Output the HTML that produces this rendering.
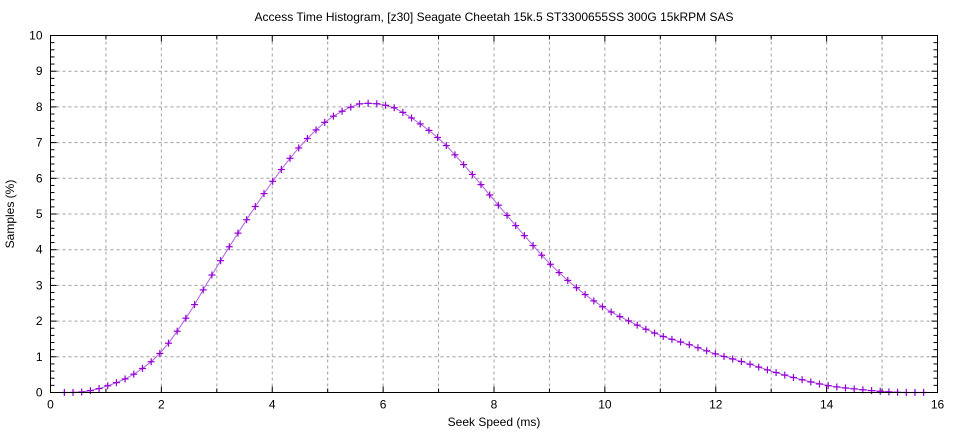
<!DOCTYPE html>
<html><head><meta charset="utf-8"><style>
html,body{margin:0;padding:0;background:#fff;}
svg{display:block;font-family:"Liberation Sans","DejaVu Sans",sans-serif;}
</style></head><body>
<svg id="s" width="960" height="432" xmlns="http://www.w3.org/2000/svg">
<rect width="960" height="432" fill="#fff"/>
<g id="grid" stroke="#a0a0a0" stroke-width="1" stroke-dasharray="3,3"></g>
<g id="ticks" stroke="#000" stroke-width="1"></g>
<g id="lbl" font-size="12" fill="#000"></g>
<text x="494" y="21" font-size="12" text-anchor="middle">Access Time Histogram, [z30] Seagate Cheetah 15k.5 ST3300655SS 300G 15kRPM SAS</text>
<text x="494" y="426" font-size="12" text-anchor="middle">Seek Speed (ms)</text>
<text transform="translate(14,214) rotate(-90)" font-size="12" text-anchor="middle">Samples (%)</text>
<path id="curve" fill="none" stroke="#b060e0" stroke-width="1"/>
<g id="marks" stroke="#9400d3" stroke-width="1.2"></g>
<rect x="50.5" y="35.5" width="887" height="357" fill="none" stroke="#000" stroke-width="1"/>
</svg>
<script>
var L=50.5,R=937.5,T=35.5,B=392.5;
function X(v){return L+(R-L)*v/16}
function Y(v){return B-(B-T)*v/10}
var ns="http://www.w3.org/2000/svg";
function el(p,t,a,txt){var e=document.createElementNS(ns,t);for(var k in a)e.setAttribute(k,a[k]);if(txt!=null)e.textContent=txt;document.getElementById(p).appendChild(e);}
for(var i=1;i<16;i++){el("grid","line",{x1:X(i),x2:X(i),y1:T,y2:B});}
for(var j=1;j<10;j++){el("grid","line",{x1:L,x2:R,y1:Y(j),y2:Y(j)});}
for(var i=0;i<=16;i++){var len=(i%2==0)?6:4;el("ticks","line",{x1:X(i),x2:X(i),y1:B,y2:B-len});el("ticks","line",{x1:X(i),x2:X(i),y1:T,y2:T+len});
 if(i%2==0)el("lbl","text",{x:X(i),y:B+16,"text-anchor":"middle"},i);}
for(var j=0;j<=50;j++){var v=j/5,len=(j%5==0)?6:4;el("ticks","line",{x1:L,x2:L+len,y1:Y(v),y2:Y(v)});el("ticks","line",{x1:R,x2:R-len,y1:Y(v),y2:Y(v)});
 if(j%5==0)el("lbl","text",{x:L-8,y:Y(v)+4,"text-anchor":"end"},v);}
var kp=[[0.25,0],[0.6,0.02],[1,0.17],[1.5,0.51],[2,1.14],[2.5,2.22],[3,3.52],[3.5,4.75],[4,5.9],[4.5,6.89],[5,7.63],[5.5,8.05],[5.7,8.1],[6,8.06],[6.3,7.9],[7,7.12],[7.5,6.3],[8,5.39],[8.5,4.48],[9,3.62],[9.5,2.92],[10,2.36],[10.5,1.95],[11,1.6],[11.5,1.35],[12,1.08],[12.5,0.85],[13,0.6],[13.5,0.38],[14,0.2],[14.5,0.1],[15,0.03],[15.4,0],[15.8,0]];
function f(x){for(var i=0;i<kp.length-1;i++){if(x<=kp[i+1][0]){var p0=kp[Math.max(i-1,0)],p1=kp[i],p2=kp[i+1],p3=kp[Math.min(i+2,kp.length-1)];
 var t=(x-p1[0])/(p2[0]-p1[0]);var m1=(p2[1]-p0[1])/(p2[0]-p0[0]||1)*(p2[0]-p1[0]),m2=(p3[1]-p1[1])/(p3[0]-p1[0]||1)*(p2[0]-p1[0]);
 var t2=t*t,t3=t2*t;var y=(2*t3-3*t2+1)*p1[1]+(t3-2*t2+t)*m1+(-2*t3+3*t2)*p2[1]+(t3-t2)*m2;return Math.max(0,y);}}return 0;}
var d="";
for(var k=0;k<100;k++){var x=0.25+k*15.5/99;var px=X(x),py=Y(f(x));d+=(d?"L":"M")+px.toFixed(1)+","+py.toFixed(1);
 el("marks","line",{x1:px-3.5,x2:px+3.5,y1:py,y2:py});el("marks","line",{x1:px,x2:px,y1:py-3.5,y2:py+3.5});}
document.getElementById("curve").setAttribute("d",d);
</script>
</body></html>
